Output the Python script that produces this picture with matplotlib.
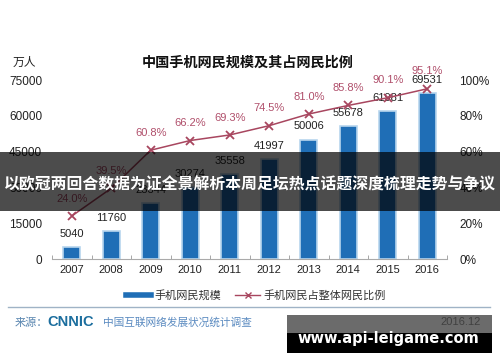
import numpy as np
import matplotlib
matplotlib.use('Agg')
import matplotlib.pyplot as plt
from matplotlib.patches import Rectangle
from matplotlib.lines import Line2D

plt.rcParams['font.family'] = ['Liberation Sans', 'Noto Sans CJK SC', 'DejaVu Sans']

years = ['2007', '2008', '2009', '2010', '2011', '2012', '2013', '2014', '2015', '2016']
users = [5040, 11760, 23344, 30274, 35558, 41997, 50006, 55678, 61981, 69531]
share = [24.0, 39.5, 60.8, 66.2, 69.3, 74.5, 81.0, 85.8, 90.1, 95.1]
left_ticks = [0, 15000, 30000, 45000, 60000, 75000]
right_ticks = [0, 20, 40, 60, 80, 100]

title = '中国手机网民规模及其占网民比例'
unit = '万人'
legend_labels = ['手机网民规模', '手机网民占整体网民比例']
banner = '以欧冠两回合数据为证全景解析本周足坛热点话题深度梳理走势与争议'
site = 'www.api-leigame.com'

bar_color = '#1f6eb6'
line_color = '#a8465f'
pct_color = '#b04f6b'

fig = plt.figure(figsize=(5, 3.62), dpi=100)
fig.patch.set_facecolor('white')
ax = fig.add_axes([0.104, 0.2845, 0.79, 0.4945])
x = np.arange(len(years))
ax.bar(x, users, width=0.43, color=bar_color, edgecolor='#b8d6ee', linewidth=1.2, zorder=2)
ax.set_xlim(-0.5, len(years) - 0.5)
ax.set_ylim(0, 75000)
ax.set_yticks(left_ticks)
ax.set_yticklabels([str(v) for v in left_ticks])
ax.set_xticks(x)
ax.set_xticklabels(years)
ax.set_xticks(np.arange(-0.5, len(years), 1), minor=True)
ax.tick_params(axis='x', which='major', length=0, pad=4, labelsize=8, colors='#222222')
ax.tick_params(axis='x', which='minor', length=3, direction='in', color='#999999')
ax.tick_params(axis='y', length=0, pad=7, labelsize=8.5, colors='#222222')
for s in ['top', 'right', 'left']:
    ax.spines[s].set_visible(False)
ax.spines['bottom'].set_color('#aaaaaa')
for xi, v in zip(x, users):
    ax.annotate(str(v), (xi, v), xytext=(0, 9.5), textcoords='offset points',
                ha='center', va='center', fontsize=8, color='#222222')

ax2 = ax.twinx()
ax2.set_ylim(0, 100)
ax2.set_yticks(right_ticks)
ax2.set_yticklabels([f'{v}%' for v in right_ticks])
ax2.tick_params(axis='y', length=0, pad=9, labelsize=8.5, colors='#222222')
for s in ['top', 'right', 'left', 'bottom']:
    ax2.spines[s].set_visible(False)
ax2.plot(x, share, color=line_color, lw=1.1, marker='x', ms=6, mew=1.3, zorder=3)
for xi, v in zip(x, share):
    ax2.annotate(f'{v:.1f}%', (xi, v), xytext=(0, 12.5), textcoords='offset points',
                 ha='center', va='center', fontsize=8, color=pct_color)

fig.text(0.495, 0.826, title, ha='center', va='center', fontsize=10.2,
         fontweight='bold', color='#111111')
fig.text(0.048, 0.826, unit, ha='center', va='center', fontsize=8.5, color='#222222')

handles = [Line2D([], [], color=bar_color, lw=4),
           Line2D([], [], color=line_color, lw=1, marker='x', ms=5, mew=1)]
fig.legend(handles, legend_labels, loc='center', bbox_to_anchor=(0.512, 0.185), ncol=2,
           frameon=False, fontsize=8, handlelength=2.2, handletextpad=0.3,
           columnspacing=1.3, labelcolor='#333333')

fig.add_artist(Line2D([0.016, 0.98], [0.152, 0.152], transform=fig.transFigure,
                      color='#9fb3c6', lw=1))
fig.text(0.03, 0.108, '来源：', ha='left', va='center', fontsize=8, color='#5a86b0')
fig.text(0.094, 0.110, 'CNNIC', ha='left', va='center', fontsize=10.5, fontweight='bold',
         color='#1c6e9e')
fig.text(0.206, 0.108, '中国互联网络发展状况统计调查', ha='left', va='center', fontsize=7.7,
         color='#5a8ac0')
fig.text(0.962, 0.11, '2016.12', ha='right', va='center', fontsize=8, color='#999999')

# dark banner overlay
fig.add_artist(Rectangle((0, 0.417), 1, 0.163, transform=fig.transFigure,
                         facecolor='black', alpha=0.70, edgecolor='none', zorder=10))
fig.text(0.5, 0.49, banner, ha='center', va='center', fontsize=11.4, fontweight='bold',
         color='white', zorder=11)

# site overlay box
fig.add_artist(Rectangle((0.574, 0.025), 0.41, 0.105, transform=fig.transFigure,
                         facecolor='black', alpha=0.58, edgecolor='none', zorder=10))
fig.add_artist(Rectangle((0.574, 0.025), 0.41, 0.055, transform=fig.transFigure,
                         facecolor='black', edgecolor='none', zorder=10))
fig.text(0.777, 0.066, site, ha='center', va='center', fontsize=10.5, fontweight='bold',
         family='DejaVu Sans', color='white', zorder=11)

fig.savefig('out.png', dpi=100)
